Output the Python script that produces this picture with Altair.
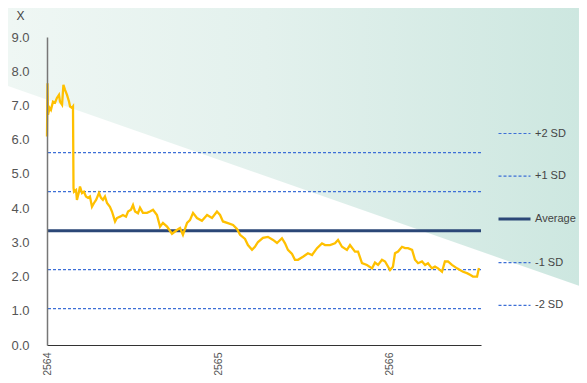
import altair as alt
import pandas as pd

# ---- data ----
years = [2564.000, 2564.003, 2564.006, 2564.015, 2564.023, 2564.035, 2564.047, 2564.058, 2564.070, 2564.076,
         2564.088, 2564.096, 2564.105, 2564.117, 2564.129, 2564.135, 2564.146, 2564.152, 2564.155, 2564.158,
         2564.170, 2564.175, 2564.187, 2564.193, 2564.205, 2564.216, 2564.228, 2564.240, 2564.251, 2564.263,
         2564.275, 2564.287, 2564.304, 2564.316, 2564.327, 2564.339, 2564.351, 2564.368, 2564.380, 2564.398,
         2564.409, 2564.427, 2564.444, 2564.462, 2564.474, 2564.491, 2564.503, 2564.515, 2564.532, 2564.544,
         2564.561, 2564.585, 2564.602, 2564.620, 2564.643, 2564.661, 2564.678, 2564.702, 2564.731, 2564.760,
         2564.778, 2564.795, 2564.819, 2564.836, 2564.854, 2564.877, 2564.906, 2564.936, 2564.965, 2564.994,
         2565.012, 2565.029, 2565.058, 2565.088, 2565.111, 2565.129, 2565.158, 2565.175, 2565.199, 2565.216,
         2565.234, 2565.263, 2565.292, 2565.322, 2565.345, 2565.374, 2565.392, 2565.409, 2565.433, 2565.450,
         2565.468, 2565.497, 2565.526, 2565.550, 2565.579, 2565.608, 2565.626, 2565.655, 2565.684, 2565.702,
         2565.725, 2565.754, 2565.772, 2565.801, 2565.819, 2565.842, 2565.871, 2565.901, 2565.918, 2565.936,
         2565.959, 2565.977, 2566.006, 2566.023, 2566.035, 2566.053, 2566.076, 2566.094, 2566.111, 2566.135,
         2566.152, 2566.170, 2566.193, 2566.211, 2566.228, 2566.251, 2566.269, 2566.287, 2566.310, 2566.327,
         2566.345, 2566.368, 2566.398, 2566.415, 2566.433, 2566.456, 2566.474, 2566.491, 2566.515, 2566.526]
values = [6.09, 7.65, 6.73, 6.93, 6.87, 7.11, 7.08, 7.22, 7.31, 7.11,
          7.02, 7.60, 7.46, 7.31, 7.11, 6.97, 6.93, 6.97, 4.59, 4.48,
          4.53, 4.24, 4.48, 4.63, 4.44, 4.48, 4.34, 4.30, 4.34, 4.04,
          4.15, 4.24, 4.44, 4.30, 4.24, 4.34, 4.15, 4.04, 3.90, 3.61,
          3.71, 3.75, 3.80, 3.75, 3.90, 3.95, 4.09, 3.90, 3.85, 4.01,
          3.86, 3.86, 3.90, 3.95, 3.80, 3.46, 3.57, 3.46, 3.25, 3.36,
          3.42, 3.22, 3.57, 3.65, 3.86, 3.71, 3.63, 3.80, 3.71, 3.90,
          3.80, 3.61, 3.56, 3.51, 3.39, 3.22, 3.10, 2.92, 2.78, 2.87,
          3.01, 3.13, 3.16, 3.07, 2.98, 3.12, 2.97, 2.78, 2.66, 2.49,
          2.49, 2.58, 2.68, 2.63, 2.83, 2.97, 2.92, 2.92, 2.97, 3.07,
          2.87, 2.78, 2.92, 2.73, 2.73, 2.39, 2.34, 2.24, 2.41, 2.34,
          2.49, 2.44, 2.19, 2.29, 2.68, 2.73, 2.87, 2.83, 2.83, 2.78,
          2.49, 2.39, 2.44, 2.34, 2.39, 2.24, 2.29, 2.24, 2.14, 2.44,
          2.44, 2.34, 2.24, 2.19, 2.14, 2.10, 2.05, 2.00, 2.00, 2.25]

level_names = ["+2 SD", "+1 SD", "Average", "-1 SD", "-2 SD"]
level_values = [5.62, 4.48, 3.34, 2.20, 1.06]
level_colors = ["#3d6fd6", "#3d6fd6", "#2b4777", "#3d6fd6", "#3d6fd6"]
level_dashes = [[3, 2], [3, 2], [1, 0], [3, 2], [3, 2]]

x_ticks = [2564, 2565, 2566]
y_ticks = [0, 1, 2, 3, 4, 5, 6, 7, 8, 9]

# decorative background wedge (upper-right tint)
bg_t = [2563.772, 2567.111]
bg_low = [7.57, 1.73]
bg_high = [9.85, 9.85]

FONT = "Liberation Sans"

line_df = pd.DataFrame({"t": years, "v": values})
lvl_df = pd.DataFrame({"t": [2564.0] * len(level_names), "name": level_names, "v": level_values})
bg_df = pd.DataFrame({"t": bg_t, "lo": bg_low, "v": bg_high})

xscale = alt.Scale(domain=[2564, 2566.538], nice=False, zero=False)
yscale = alt.Scale(domain=[0, 9], nice=False)

xaxis = alt.Axis(values=x_ticks, format="d", labelAngle=-90, title=None, grid=False,
                 ticks=False, labelPadding=7, labelFontSize=10.5, labelColor="#555",
                 labelFont=FONT, domainColor="#333", domainWidth=1.2, zindex=1)
yaxis = alt.Axis(values=y_ticks, format=".1f", title="X", titleAngle=0, titleX=-27,
                 titleY=-22, titleAlign="center", titleBaseline="middle",
                 titleFontSize=12, titleFontWeight="normal", titleColor="#444",
                 titleFont=FONT, grid=False, ticks=False, labelPadding=18,
                 labelFontSize=13, labelColor="#555", labelFont=FONT,
                 domainColor="#777", domainWidth=1.5, zindex=1)

bg = alt.Chart(bg_df).mark_area(
    color=alt.Gradient(
        gradient="linear",
        stops=[alt.GradientStop(color="#eff7f4", offset=0),
               alt.GradientStop(color="#e3f1ed", offset=0.45),
               alt.GradientStop(color="#cde7e0", offset=1)],
        x1=0, x2=1, y1=0, y2=0),
    clip=False,
).encode(
    x=alt.X("t:Q", scale=xscale, axis=xaxis),
    y=alt.Y("v:Q", scale=yscale, axis=yaxis),
    y2="lo:Q",
)

rules = alt.Chart(lvl_df).mark_rule().encode(
    y=alt.Y("v:Q", scale=yscale, axis=yaxis),
    color=alt.Color("name:N", scale=alt.Scale(domain=level_names, range=level_colors),
                    legend=alt.Legend(
                        title=None, orient="none", legendX=462, legendY=91,
                        symbolType="stroke", symbolSize=1024,
                        labelFontSize=11, labelColor="#444", labelFont=FONT,
                        labelOffset=15, rowPadding=30.7, padding=0,
                        symbolStrokeWidth=alt.ExprRef("datum.label === 'Average' ? 3 : 1.2"))),
    strokeDash=alt.StrokeDash("name:N", scale=alt.Scale(domain=level_names, range=level_dashes)),
    strokeWidth=alt.condition(alt.datum.name == "Average", alt.value(3), alt.value(1.2)),
)

line = alt.Chart(line_df).mark_line(color="#FFC000", strokeWidth=2.3).encode(
    x=alt.X("t:Q", scale=xscale, axis=xaxis),
    y=alt.Y("v:Q", scale=yscale, axis=yaxis),
)

chart = alt.layer(bg, rules, line).properties(
    width=434, height=308,
    autosize=alt.AutoSizeParams(type="none"),
    padding={"left": 39, "top": 29, "right": 98, "bottom": 30},
    background="white",
).configure_view(strokeWidth=0)

chart.save("out.html", embed_options={"renderer": "svg", "actions": False})
